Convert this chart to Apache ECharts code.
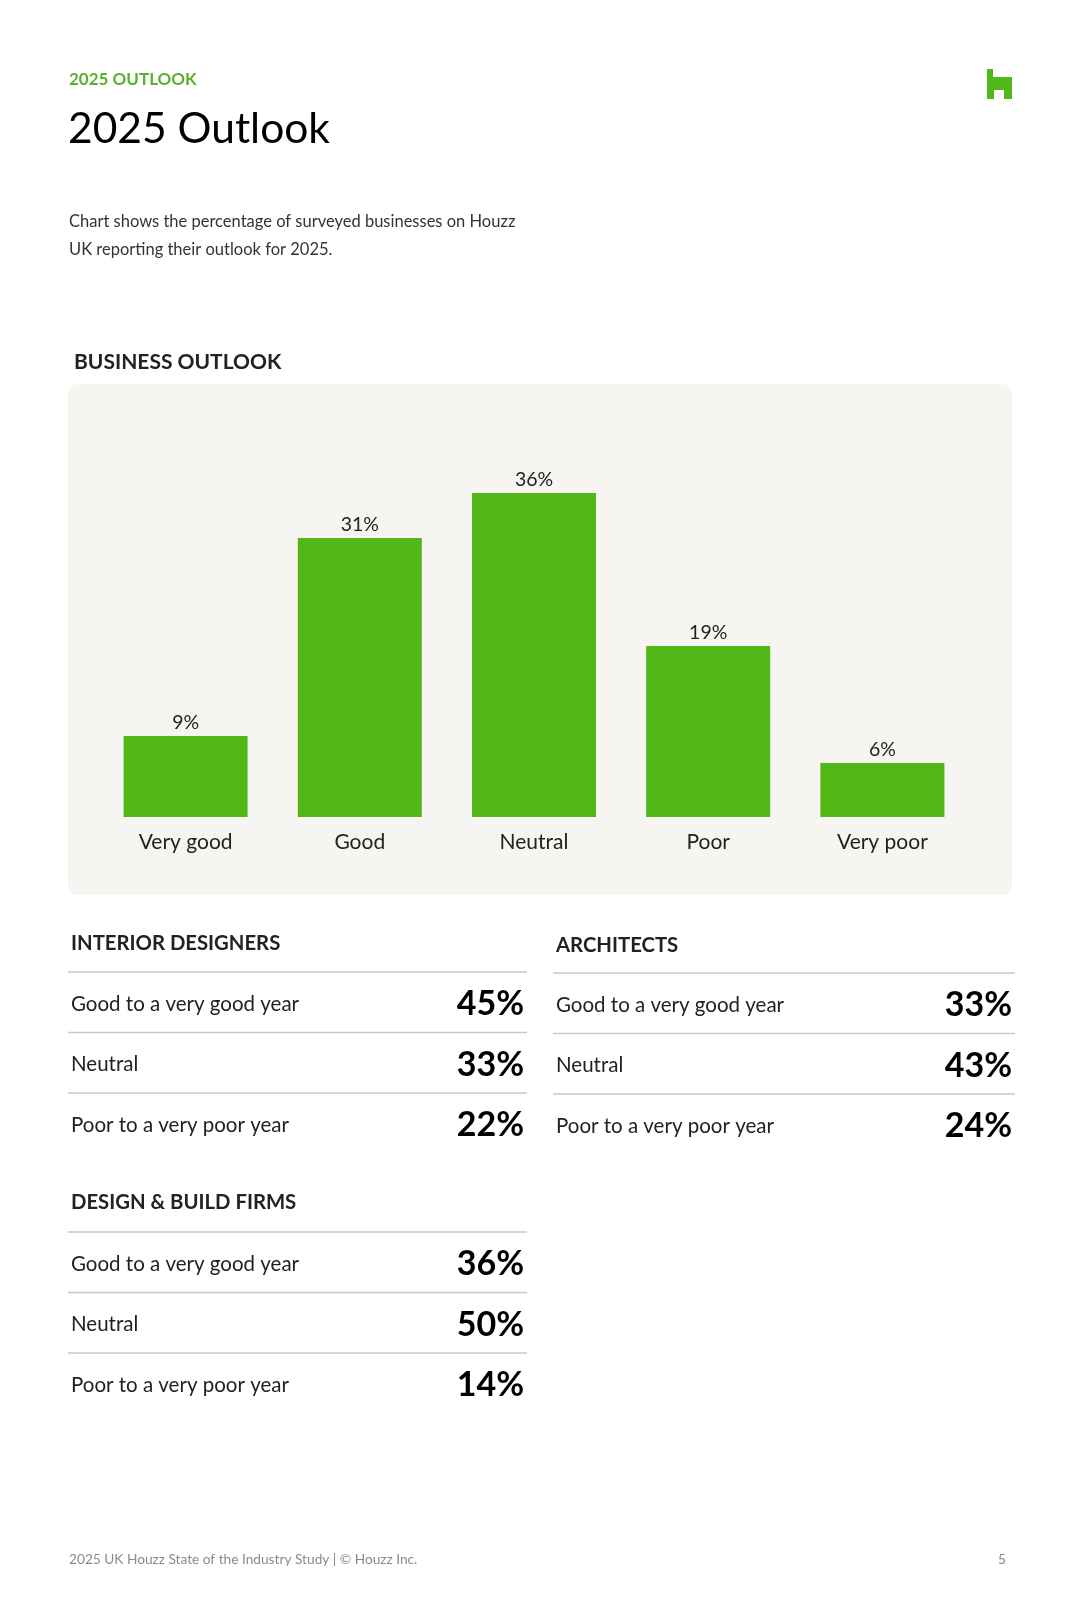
<!DOCTYPE html>
<html>
<head>
<meta charset="utf-8">
<script src="https://cdn.jsdelivr.net/npm/echarts@6/dist/echarts.min.js"></script>
<style>
  html, body { margin: 0; padding: 0; background: #ffffff; }
  #chart { width: 1080px; height: 1620px; }
</style>
</head>
<body>
<div id="chart"></div>
<script>
// ---- data ----
const categories = ['Very good', 'Good', 'Neutral', 'Poor', 'Very poor'];
const outlookValues = [9, 31, 36, 19, 6];
const rowLabels = ['Good to a very good year', 'Neutral', 'Poor to a very poor year'];
const groupNames = ['INTERIOR DESIGNERS', 'ARCHITECTS', 'DESIGN & BUILD FIRMS'];
const interiorDesigners = [45, 33, 22];
const architects = [33, 43, 24];
const designBuildFirms = [36, 50, 14];

// ---- style ----
const FONT = 'Lato, "Noto Sans", sans-serif';
const GREEN = '#52B817';
const DARK = '#1a1a1a';

const chart = echarts.init(document.getElementById('chart'), null, { renderer: 'canvas' });

function txt(text, x, y, size, opts) {
  opts = opts || {};
  return {
    type: 'text',
    z: 10,
    style: {
      text: text, x: x, y: y,
      fontFamily: FONT,
      fontSize: size,
      fontWeight: opts.weight || 'normal',
      fill: opts.color || DARK,
      textAlign: opts.align || 'left',
      textVerticalAlign: 'middle',
      verticalAlign: 'middle'
    }
  };
}
function hline(x1, x2, y) {
  return { type: 'line', z: 5, shape: { x1: x1, y1: y, x2: x2, y2: y }, style: { stroke: '#c9c9c9', lineWidth: 1.5 } };
}

const graphics = [];
// panel background
graphics.push({ type: 'rect', z: -10, shape: { x: 68, y: 384, width: 944, height: 511, r: 10 }, style: { fill: '#F6F5F1' } });
// header texts
graphics.push(txt('2025 OUTLOOK', 69, 80, 17, { color: '#5BAE2E', weight: 'bold' }));
graphics.push(txt('2025 Outlook', 68, 129, 42.5, { color: '#000' }));
graphics.push(txt('Chart shows the percentage of surveyed businesses on Houzz', 69, 222, 16.5, { color: '#333' }));
graphics.push(txt('UK reporting their outlook for 2025.', 69, 250, 16.5, { color: '#333' }));
graphics.push(txt('BUSINESS OUTLOOK', 74, 362, 21, { color: '#222', weight: 'bold' }));
// logo
graphics.push({ type: 'polygon', z: 10, shape: { points: [[987,69],[993,69],[993,77],[1012,77],[1012,99],[1004,99],[1004,90],[994,90],[994,99],[987,99]] }, style: { fill: GREEN } });
// footer
graphics.push(txt('2025 UK Houzz State of the Industry Study | \u00A9 Houzz Inc.', 69, 1560, 13.7, { color: '#8a8a8a' }));
graphics.push(txt('5', 1006, 1560, 13.7, { color: '#8a8a8a', align: 'right' }));

// tables
const blocks = [
  { name: groupNames[0], values: interiorDesigners, x1: 68, x2: 527, titleY: 943, lineY: 972 },
  { name: groupNames[1], values: architects, x1: 553, x2: 1015, titleY: 945, lineY: 973 },
  { name: groupNames[2], values: designBuildFirms, x1: 68, x2: 527, titleY: 1202, lineY: 1232 }
];
const ROW = 60.5;
blocks.forEach(function (b) {
  graphics.push(txt(b.name, b.x1 + 3, b.titleY, 20.3, { color: '#222', weight: 'bold' }));
  for (let i = 0; i < 3; i++) {
    graphics.push(hline(b.x1, b.x2, b.lineY + i * ROW));
    const cy = b.lineY + ROW / 2 + i * ROW + 2;
    graphics.push(txt(rowLabels[i], b.x1 + 3, cy, 20.5, { color: '#222' }));
    graphics.push(txt(b.values[i] + '%', b.x2 - 3, cy, 34, { color: '#000', weight: 'bold', align: 'right' }));
  }
});

const option = {
  backgroundColor: '#ffffff',
  animation: false,
  grid: { left: 98.5, width: 871, top: 457, height: 360, containLabel: false },
  xAxis: {
    type: 'category',
    data: categories,
    axisLine: { show: false },
    axisTick: { show: false },
    axisLabel: { color: '#222', fontSize: 21, fontFamily: FONT, margin: 15 }
  },
  yAxis: {
    type: 'value', min: 0, max: 40, interval: 10,
    show: false, splitLine: { show: false }
  },
  series: [{
    type: 'bar',
    data: outlookValues,
    barWidth: 124,
    itemStyle: { color: GREEN },
    label: {
      show: true, position: 'top', distance: 3,
      formatter: '{c}%', color: '#222', fontSize: 19.5, fontFamily: FONT
    }
  }],
  graphic: graphics
};
chart.setOption(option);
</script>
</body>
</html>
